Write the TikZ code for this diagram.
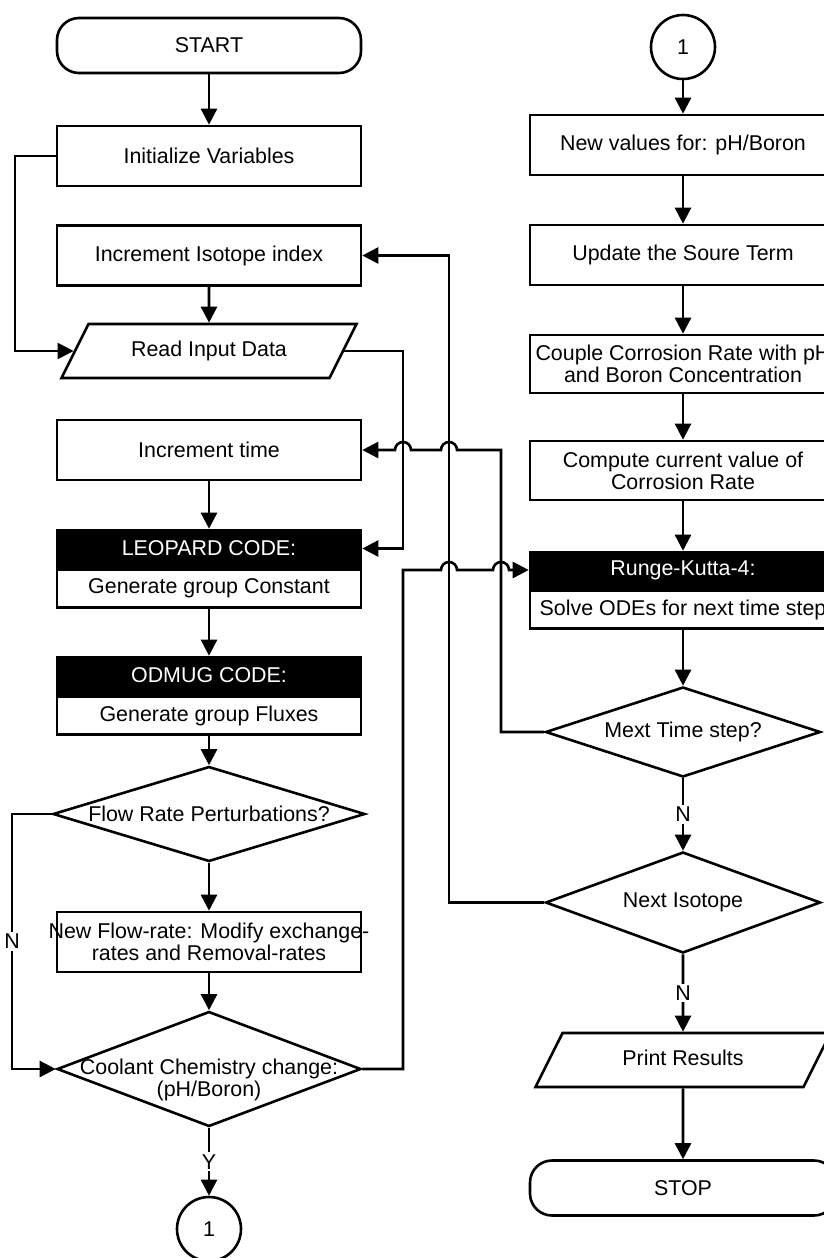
\documentclass[tikz,border=0pt]{standalone}
\usepackage{fontspec}
\setmainfont{Liberation Sans}
\usetikzlibrary{positioning}
\usetikzlibrary{shapes.geometric}
\usetikzlibrary{arrows.meta}
\usetikzlibrary{calc}
\tikzset{
	terminal/.style={draw, rectangle, rounded corners=11pt, minimum width=152pt, minimum height=27.5pt, inner sep=0pt},
	process/.style={draw, rectangle, minimum width=152pt, minimum height=30pt, inner sep=0pt, align=center},
	header/.style={draw, rectangle, fill=black, text=white, minimum width=152pt, minimum height=18.5pt, inner sep=0pt},
	subbox/.style={draw, rectangle, fill=white, minimum width=152pt, minimum height=19pt, inner sep=0pt},
	io/.style={draw, trapezium, trapezium left angle=63.4, trapezium right angle=116.6, trapezium stretches body=true, text height=8pt, text depth=2.5pt, inner xsep=0pt, inner ysep=8.25pt, minimum width=147.5pt},
	decision/.style={draw, diamond, inner sep=0pt},
	connector/.style={draw, circle, minimum size=32pt, inner sep=0pt},
	% labels sitting on a line
	tag/.style={fill=white, inner sep=1pt}
}

\begin{document}
\begin{tikzpicture}[line width=1.3pt, font=\fontsize{10.7pt}{11pt}\selectfont]
			\useasboundingbox (0,0) rectangle (412pt,-629pt);
			\clip (0,0) rectangle (412pt,-629pt);
			
			% left column
			\node (start) [terminal] at (104.5pt,-22.75pt) {START};
			\node (init) [process, below of=start, node distance=55.25pt] {Initialize Variables};
			\node (isoinc) [process, below of=init, node distance=49.75pt] {Increment Isotope index};
			\node (read) [io, below of=isoinc, node distance=47.75pt] {Read Input Data};
			\node (timeinc) [process, below of=read, node distance=49.5pt] {Increment time};
			\node (leo) [header, below of=timeinc, node distance=49.25pt] {LEOPARD CODE:};
			\node (leobody) [subbox, below=0pt of leo] {Generate group Constant};
			\node (odmug) [header, below of=leo, node distance=63.5pt] {ODMUG CODE:};
			\node (odmugbody) [subbox, below=0pt of odmug] {Generate group Fluxes};
			\node (flow) [decision, minimum width=156pt, minimum height=47.5pt, below of=odmug, node distance=69.25pt,
				label=center:{Flow Rate Perturbations?}] {};
			\node (newflow) [process, below of=flow, node distance=64pt,
				label={[align=center]center:{New Flow-rate: Modify exchange-\\rates and Removal-rates}}] {};
			\node (coolant) [decision, minimum width=152pt, minimum height=57.5pt, below of=newflow, node distance=63.5pt,
				label={[align=center, yshift=-5.5pt]center:{Coolant Chemistry change:\\(pH/Boron)}}] {};
			\node (out1) [connector, below of=coolant, node distance=80pt] {1};
			
			% right column
			\node (in1) [connector] at (341.5pt,-23.5pt) {1};
			\node (newval) [process, minimum width=153pt, below of=in1, node distance=49pt] {New values for: pH/Boron};
			\node (source) [process, minimum width=153pt, below of=newval, node distance=55pt] {Update the Soure Term};
			\node (couple) [process, minimum width=153pt, minimum height=29pt, below of=source, node distance=54.5pt] {Couple Corrosion Rate with pH\\and Boron Concentration};
			\node (corr) [process, minimum width=153pt, minimum height=29.5pt, below of=couple, node distance=53.25pt] {Compute current value of\\Corrosion Rate};
			\node (rk) [header, minimum width=153pt, minimum height=18pt, below of=corr, node distance=49.75pt] {Runge-Kutta-4:};
			\node (rkbody) [subbox, minimum width=153pt, below=0pt of rk] {Solve ODEs for next time step};
			\node (nextstep) [decision, minimum width=137.5pt, minimum height=45pt, below of=rk, node distance=81pt,
				label=center:{Mext Time step?}] {};
			\node (nextiso) [decision, minimum width=137.5pt, minimum height=50.5pt, below of=nextstep, node distance=85.25pt,
				label=center:{Next Isotope}] {};
			\node (print) [io, below of=nextiso, node distance=78.75pt] {Print Results};
			\node (stop) [terminal, minimum width=153pt, below of=print, node distance=64pt] {STOP};
			
			% lanes for the loop lines
			\coordinate (initlane) at (7.5pt,0);
			\coordinate (nlane) at (6pt,0);
			\coordinate (readlane) at (201.5pt,0);
			\coordinate (isolane) at (224.5pt,0);
			\coordinate (timelane) at (250.5pt,0);
			
			\begin{scope}[->, >={Triangle[length=8pt, width=8pt]}]
				\draw (start) -- (init);
				\draw (isoinc) -- (read);
				\draw (timeinc) -- (leo);
				\draw (leobody) -- (odmug);
				\draw (odmugbody) -- (flow);
				\draw (flow) -- (newflow);
				\draw (newflow) -- (coolant);
				\draw (coolant) -- node[tag] {Y} (out1);
				\draw (init.west) -| (initlane |- read.west) -- (read.west);
				\draw (flow.west) -| node[tag, pos=0.75] {N} (nlane |- coolant.west) -- (coolant.west);
				\draw (read.east) -| (readlane |- leo.east) -- (leo.east);
				
				\draw (in1) -- (newval);
				\draw (newval) -- (source);
				\draw (source) -- (couple);
				\draw (couple) -- (corr);
				\draw (corr) -- (rk);
				\draw (rkbody) -- (nextstep);
				\draw (nextstep) -- node[tag] {N} (nextiso);
				\draw (nextiso) -- node[tag] {N} (print);
				\draw (print) -- (stop);
				
				% loops back, hopping over the lanes
				\draw (nextiso.west) -| (isolane |- isoinc.east) -- (isoinc.east);
				\draw (nextstep.west) -| (timelane |- timeinc.east)
					-- ($(isolane |- timeinc.east)+(4pt,0)$) arc[start angle=0, end angle=180, radius=4pt]
					-- ($(readlane |- timeinc.east)+(4pt,0)$) arc[start angle=0, end angle=180, radius=4pt]
					-- (timeinc.east);
				\draw (coolant.east) -| (readlane |- rk.west)
					-- ($(isolane |- rk.west)-(4pt,0)$) arc[start angle=180, end angle=0, radius=4pt]
					-- ($(timelane |- rk.west)-(4pt,0)$) arc[start angle=180, end angle=0, radius=4pt]
					-- (rk.west);
			\end{scope}
		\end{tikzpicture}
\end{document}
